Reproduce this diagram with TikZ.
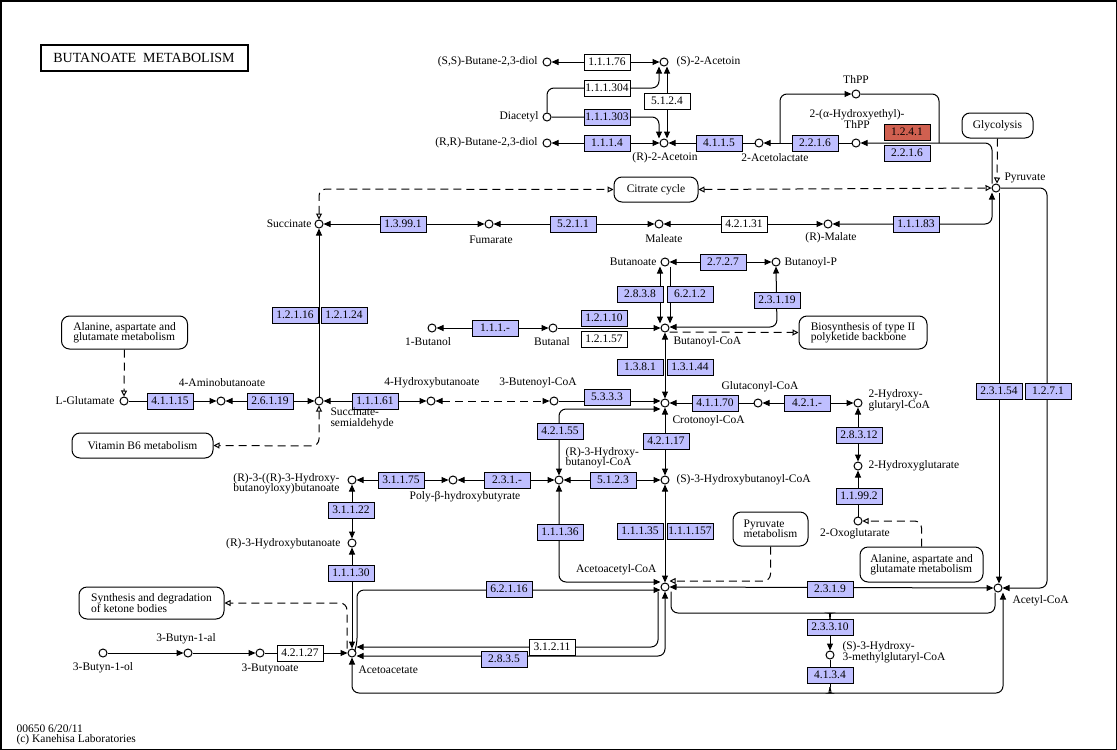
\documentclass[tikz,border=0pt]{standalone}
\usepackage{fontspec}
\setmainfont{Liberation Serif}
\usetikzlibrary{arrows.meta}

\definecolor{kazul}{RGB}{191,191,255}
\definecolor{kverm}{RGB}{208,96,80}

\begin{document}
\begin{tikzpicture}[x=1pt, y=-1pt, line width=1pt,
    font=\fontsize{11.5}{10.5}\selectfont,
    ponta/.tip={Triangle[length=7pt,width=6pt]},
    aberta/.tip={Triangle[open,length=6pt,width=6pt]},
    cpd/.style={circle, draw, fill=white, inner sep=0pt, minimum size=8pt},
    enz/.style={draw, fill=kazul, minimum width=46pt, minimum height=16pt, inner sep=0pt},
    enzw/.style={enz, fill=white},
    enzr/.style={enz, fill=kverm},
    mapa/.style={draw, fill=white, rounded corners=8pt, align=left, inner sep=0pt},
    lb/.style={inner sep=1pt, align=left},
    fw/.style={-ponta},
    bw/.style={ponta-ponta},
    aa/.style={-aberta},
    baa/.style={aberta-aberta},
    tracejado/.style={dash pattern=on 8pt off 5pt},
    rc/.style={rounded corners=7pt}]

  \useasboundingbox (0,0) rectangle (1117,750);
  \draw[line width=1.5pt] (0.75,0.75) rectangle (1116.25,749.25);

  % 1. Compostos (círculos) nas posições do mapa
  \foreach \nm/\x/\y in {ssbd/547/62, sacet/664/62, diac/547/117, rrbd/547/143,
      racet/664/143, acetl/759/143, hethpp/856/143, thpp/856/94, pyr/996/188,
      succ/319/224, fum/489/224, male/659/224, rmal/828/224,
      butn/665/262, butp/776/262, butanol/432/328, butanal/553/328, bcoa/665/328,
      glu/124/401, gaba/221/401, ssa/319/401, ghb/431/401, bten/554/401,
      ccoa/665/403, gcoa/758/403, hgcoa/858/403, hglut/858/466, oxog/858/521,
      rhbb/352/480, phb/453/480, rhbcoa/559/480, shbcoa/665/480, rhb/352/543,
      aacoa/665/587, acoa/998/588, hmgcoa/830/655,
      byol/103/653, byal/188/653, bynoate/260/653, aac/352/653} {
    \node[cpd] (\nm) at (\x,\y) {};
  }

  % 2. Caixas de outros mapas e título
  \node[draw, line width=2pt, minimum width=207pt, minimum height=26pt,
        font=\fontsize{14}{14}\selectfont] (titulo) at (144,57.5) {BUTANOATE~~METABOLISM};
  \node[mapa, minimum width=71pt, minimum height=25pt] (glyc) at (997.5,125.5) {Glycolysis};
  \node[mapa, minimum width=84pt, minimum height=25pt] (tca) at (656,189.5) {Citrate cycle};
  \node[mapa, minimum width=128pt, minimum height=33pt] (pks) at (863,332.5) {Biosynthesis of type II\\polyketide backbone};
  \node[mapa, minimum width=126pt, minimum height=33pt] (ala1) at (124.5,332.5) {Alanine, aspartate and\\glutamate metabolism};
  \node[mapa, minimum width=141pt, minimum height=25pt] (vb6) at (142.5,445.5) {Vitamin B6 metabolism};
  \node[mapa, minimum width=75pt, minimum height=34pt] (pyrm) at (770.5,529) {Pyruvate\\metabolism};
  \node[mapa, minimum width=123pt, minimum height=35pt] (ala2) at (921.5,564.5) {Alanine, aspartate and\\glutamate metabolism};
  \node[mapa, minimum width=145pt, minimum height=32pt] (keto) at (151.5,603) {Synthesis and degradation\\of ketone bodies};

  % 3. Reações: acetoína e piruvato
  \draw[bw] (ssbd) -- (sacet);
  \draw[fw, rc] (diac.north) -- (547,88) -- (659,88) -- ([xshift=-5pt]sacet.south);
  \draw[fw, rc] (diac.east) -- (659,117) -- ([xshift=-5pt]racet.north);
  \draw[bw] ([xshift=3pt]sacet.south) -- ([xshift=3pt]racet.north);
  \draw[bw] (rrbd) -- (racet);
  \draw[fw] (acetl) -- (racet);
  \draw[fw] (hethpp) -- (acetl);
  \draw[fw, rc] ([xshift=-4pt]pyr.north) -- (992,143) -- (hethpp);
  \coordinate (lpe) at (780,143);
  \coordinate (lpd) at (939,143);
  \draw[fw, rc] (lpe) -- (780,94) -- (thpp);
  \draw[rc] (thpp) -- (939,94) -- (lpd);
  \draw[tracejado, aa] (glyc.south) -- ([xshift=1pt]pyr.north);
  \draw[tracejado, baa, rc] (succ.north) -- (319,189) -- (tca.west);
  \draw[tracejado, baa] (tca.east) -- (pyr.west);

  % 4. Succinato ... malato
  \draw[bw] (fum) -- (succ);
  \draw[bw] (male) -- (fum);
  \draw[bw] (rmal) -- (male);
  \draw[bw, rc] (rmal) -- (992,224) -- ([xshift=-4pt]pyr.south);
  \draw[fw] ([xshift=3pt]pyr.south) -- ([xshift=1pt]acoa.north);
  \draw[fw, rc] (pyr.east) -- (1047,188) -- (1047,588) -- (acoa.east);

  % 5. GABA e semialdeído succínico
  \draw[fw] (ssa) -- (succ);
  \draw[fw] (glu) -- (gaba);
  \draw[bw] (gaba) -- (ssa);
  \draw[bw] (ghb) -- (ssa);
  \draw[bw, tracejado] (ghb) -- (bten);
  \draw[tracejado, aa] (ala1.south) -- (glu.north);
  \draw[tracejado, baa, rc] (ssa.south) -- (319,446) -- (vb6.east);

  % 6. Butanoil-CoA e crotonoil-CoA
  \draw[bw] ([xshift=-5pt]butn.south) -- ([xshift=-5pt]bcoa.north);
  \draw[fw] ([xshift=5pt]butn.south) -- ([xshift=5pt]bcoa.north);
  \draw[bw] (butp) -- (butn);
  \draw[bw, rc] (butp.south) -- (777,327) -- ([yshift=1pt]bcoa.east);
  \draw[tracejado, aa] ([yshift=-4pt]bcoa.east) -- (pks.west);
  \draw[bw] (butanal) -- (butanol);
  \draw[fw] (butanal) -- (bcoa);
  \draw[bw] (bcoa) -- (ccoa);
  \draw[fw] (bten) -- ([yshift=2pt]ccoa.west);
  \draw[bw, rc] (rhbcoa.north) -- (559,409) -- ([yshift=-6pt]ccoa.west);
  \draw[fw] (gcoa) -- (ccoa);
  \draw[bw] (hgcoa) -- (gcoa);
  \draw[bw] (hgcoa) -- (hglut);
  \draw[fw] (oxog) -- (hglut);
  \draw[tracejado, aa, rc] (ala2.north) -- (921.5,521) -- (oxog.east);
  \draw[bw] (ccoa) -- (shbcoa);
  \draw[bw] (rhbcoa) -- (shbcoa);
  \draw[bw] (phb) -- (rhbcoa);
  \draw[bw] (rhbb) -- (phb);
  \draw[bw] (rhbb) -- (rhb);
  \draw[bw] (rhb) -- (aac);

  % 7. Acetoacetato e acetil-CoA
  \draw[tracejado, aa, rc] ([xshift=-5pt]aac.north) -- (347,603) -- (keto.east);
  \draw[fw] (byol) -- (byal);
  \draw[fw] (byal) -- (bynoate);
  \draw[fw] (bynoate) -- (aac);
  \draw[bw, rc] (rhbcoa.south) -- (559,582) -- ([yshift=5pt]aacoa.west);
  \draw[bw] (shbcoa) -- (aacoa);
  \draw[fw, rc] (aac.45) -- (357,645) -- (357,590) -- ([yshift=-3pt]aacoa.west);
  \draw[fw, rc] ([xshift=-7pt]aacoa.south) -- (658,647) -- ([yshift=6pt]aac.east);
  \draw[bw, rc] (aacoa.south) -- (665,656) -- ([yshift=-3pt]aac.east);
  \draw[tracejado, aa, rc] (pyrm.south) -- (770.5,581) -- ([yshift=6pt]aacoa.east);
  \draw[bw] (aacoa) -- (acoa);
  \coordinate (j1) at (830,619);            % junção do 2.3.3.10
  \draw[rc] ([xshift=6pt]aacoa.south) -- (671,613) -- (825,613) to[out=0, in=90] (j1);
  \draw[rc] ([xshift=-3pt]acoa.south) -- (995,613) -- (835,613) to[out=180, in=90] (j1);
  \draw[fw] (j1) -- (hmgcoa.north);
  \coordinate (j2) at (830,687);            % divisão do 4.1.3.4
  \draw (hmgcoa.south) -- (j2);
  \draw[fw, rc] (j2) to[out=-90, in=0] (824,693) -- (352,693) -- (aac.south);
  \draw[fw, rc] (j2) to[out=-90, in=180] (836,693) -- (1003,693) -- ([xshift=5pt]acoa.south);

  % 8. Enzimas (caixas por cima das linhas)
  \foreach \nm/\x/\y/\st/\ec in {e11176/607/62/enzw/1.1.1.76, e111304/607/88/enzw/1.1.1.304,
      e5124/667/101/enzw/5.1.2.4, e111303/607/117/enz/1.1.1.303, e1114/607/143/enz/1.1.1.4,
      e4115/719/143/enz/4.1.1.5, e2216a/815/143/enz/2.2.1.6, e1241/907/132/enzr/1.2.4.1,
      e2216b/907/153/enz/2.2.1.6, e13991/403/224/enz/1.3.99.1, e5211/573/224/enz/5.2.1.1,
      e42131/744/224/enzw/4.2.1.31, e11183/916/224/enz/1.1.1.83, e2727/723/262/enz/2.7.2.7,
      e2838/640/294/enz/2.8.3.8, e6212/690/294/enz/6.2.1.2, e23119/777/300/enz/2.3.1.19,
      e111x/495/328/enz/1.1.1.-, e12110/604/318/enz/1.2.1.10, e12157/604/339/enzw/1.2.1.57,
      e12116/295/315/enz/1.2.1.16, e12124/344/315/enz/1.2.1.24, e1381/640/367/enz/1.3.8.1,
      e13144/690/367/enz/1.3.1.44, e41115/170/401/enz/4.1.1.15, e26119/270/401/enz/2.6.1.19,
      e11161/375/401/enz/1.1.1.61, e5333/607/397/enz/5.3.3.3, e41170/715/403/enz/4.1.1.70,
      e421x/807/403/enz/4.2.1.-, e42155/560/431/enz/4.2.1.55, e42117/666/441/enz/4.2.1.17,
      e28312/859/435/enz/2.8.3.12, e11992/859/496/enz/1.1.99.2, e31175/401/480/enz/3.1.1.75,
      e231x/507/480/enz/2.3.1.-, e5123/613/480/enz/5.1.2.3, e31122/351/510/enz/3.1.1.22,
      e11130/351/573/enz/1.1.1.30, e11136/560/532/enz/1.1.1.36, e11135/640/531/enz/1.1.1.35,
      e111157/690/531/enz/1.1.1.157, e62116/509/589/enz/6.2.1.16, e31211/552/647/enzw/3.1.2.11,
      e2835/504/659/enz/2.8.3.5, e2319/830/589/enz/2.3.1.9, e23310/830/627/enz/2.3.3.10,
      e4134/830/675/enz/4.1.3.4, e23154/999/391/enz/2.3.1.54, e1271/1048/391/enz/1.2.7.1,
      e42127/300/653/enzw/4.2.1.27} {
    \node[\st] (\nm) at (\x,\y) {\ec};
  }

  % 9. Nomes dos compostos
  \foreach \nm/\x/\y/\anc/\txt in {t-ssbd/539/62/east/{(S,S)-Butane-2,3-diol},
      t-sacet/675/62/west/{(S)-2-Acetoin}, t-diac/540/117/east/Diacetyl,
      t-rrbd/539/143/east/{(R,R)-Butane-2,3-diol}, t-racet/665/158/center/{(R)-2-Acetoin},
      t-acetl/775/158/center/2-Acetolactate, t-thpp/856/80/center/ThPP,
      t-pyr/1003/178/west/Pyruvate, t-succ/313/224/east/Succinate,
      t-fum/491/240/center/Fumarate, t-male/664/239/center/Maleate,
      t-rmal/831/238/center/{(R)-Malate}, t-butn/658/262/east/Butanoate,
      t-butp/783/263/west/Butanoyl-P, t-butanol/428/342/center/1-Butanol,
      t-butanal/552/342/center/Butanal, t-bcoa/672/342/west/Butanoyl-CoA,
      t-glu/116/401/east/L-Glutamate, t-gaba/222/383/center/4-Aminobutanoate,
      t-ghb/432/383/center/4-Hydroxybutanoate, t-bten/538/383/center/3-Butenoyl-CoA,
      t-ccoa/671/421/west/Crotonoyl-CoA, t-gcoa/760/387/center/Glutaconyl-CoA,
      t-hglut/867/466/west/2-Hydroxyglutarate, t-oxog/855/534/center/2-Oxoglutarate,
      t-shbcoa/675/480/west/{(S)-3-Hydroxybutanoyl-CoA},
      t-phb/465/497/center/{Poly-β-hydroxybutyrate}, t-rhb/342/544/east/{(R)-3-Hydroxybutanoate},
      t-aacoa/658/570/east/Acetoacetyl-CoA, t-acoa/1011/601/west/Acetyl-CoA,
      t-byol/103/668/center/3-Butyn-1-ol, t-byal/186/639/center/3-Butyn-1-al,
      t-bynoate/270/669/center/3-Butynoate, t-aac/357/670/west/Acetoacetate} {
    \node[lb, anchor=\anc] (\nm) at (\x,\y) {\txt};
  }
  \node[lb, align=center] (t-hethpp) at (857,119) {2-(α-Hydroxyethyl)-\\ThPP};
  \node[lb, anchor=west] (t-ssa) at (329,418.5) {Succinate-\\semialdehyde};
  \node[lb, anchor=west] (t-hgcoa) at (867,400) {2-Hydroxy-\\glutaryl-CoA};
  \node[lb, anchor=west] (t-rhbcoa) at (564,457.5) {(R)-3-Hydroxy-\\butanoyl-CoA};
  \node[lb, anchor=east] (t-rhbb) at (341,483.5) {(R)-3-((R)-3-Hydroxy-\\butanoyloxy)butanoate};
  \node[lb, anchor=west] (t-hmgcoa) at (841,652) {(S)-3-Hydroxy-\\3-methylglutaryl-CoA};

  % 10. Rodapé
  \node[lb, anchor=west] (rodape1) at (15,729) {00650 6/20/11};
  \node[lb, anchor=west] (rodape2) at (15,740) {(c) Kanehisa Laboratories};
\end{tikzpicture}
\end{document}
